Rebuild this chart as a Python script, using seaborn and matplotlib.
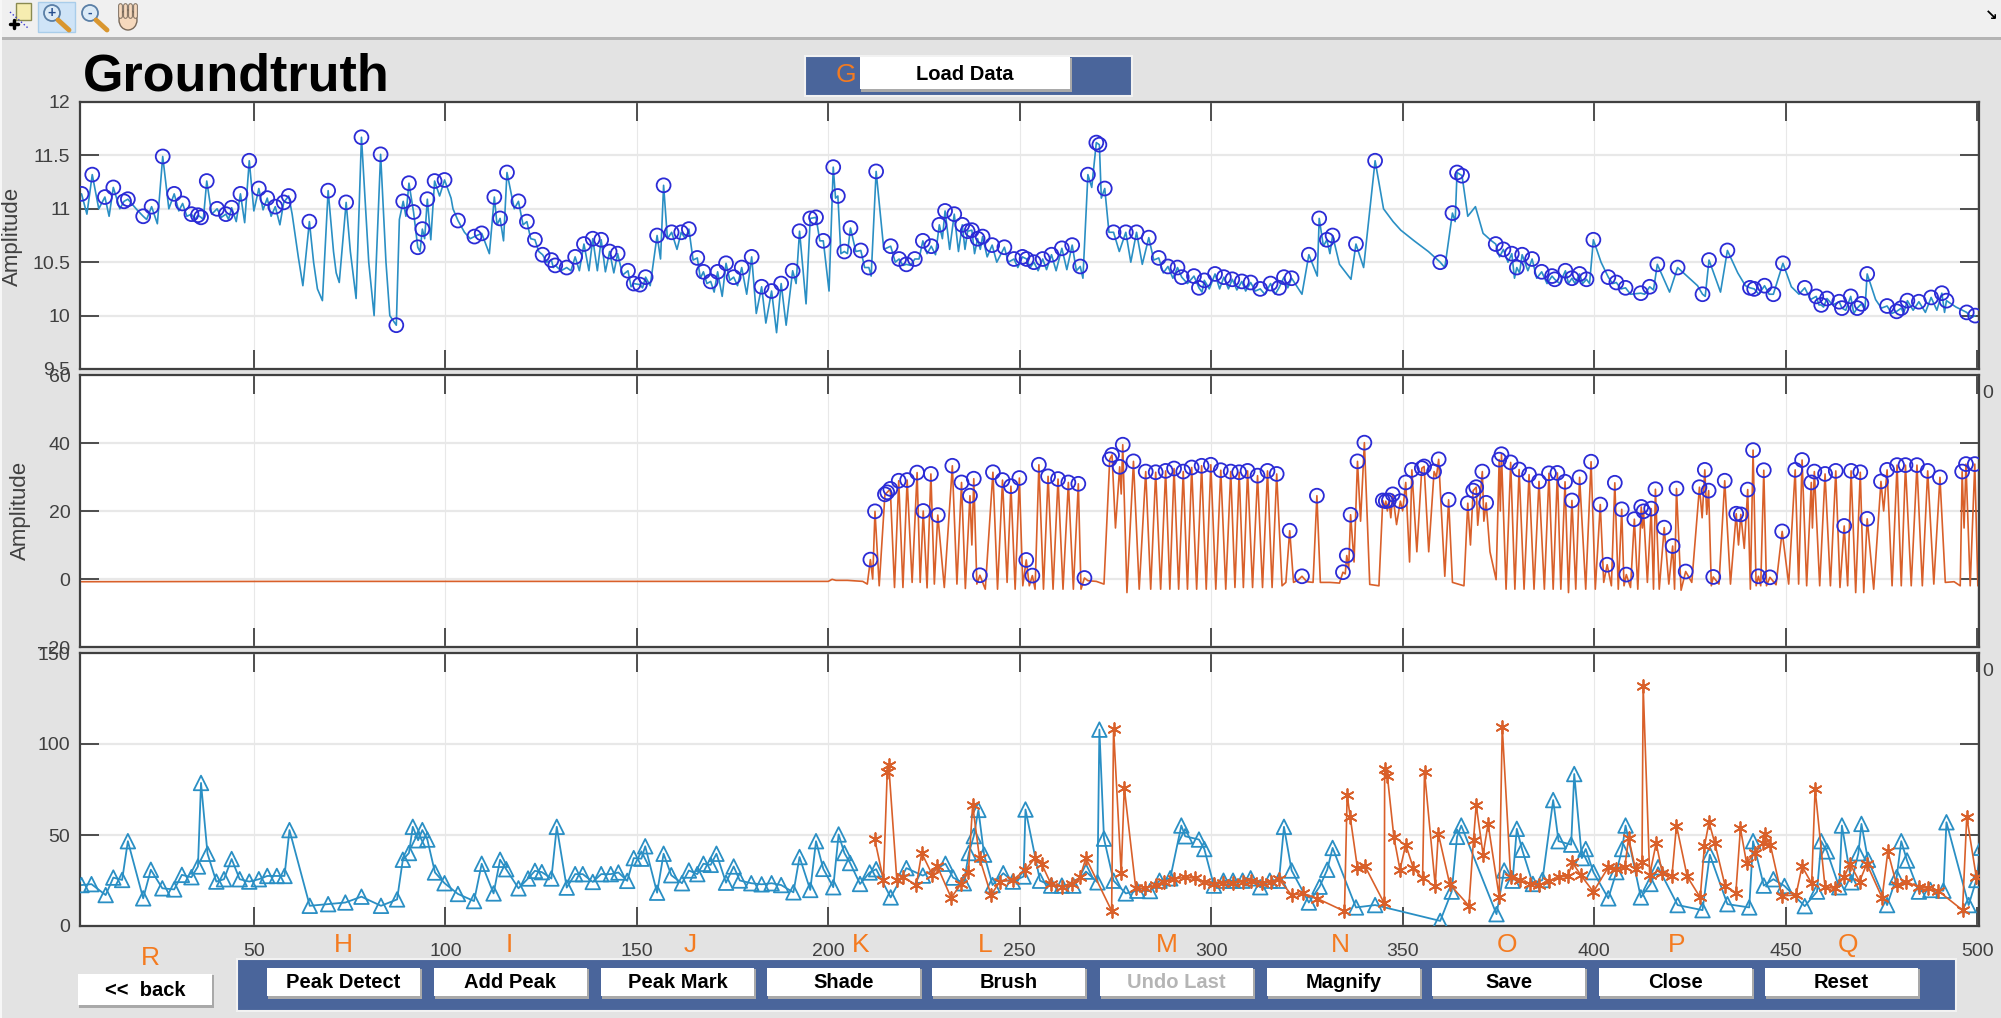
import pandas as pd
import matplotlib
matplotlib.use('Agg')
import matplotlib.pyplot as plt
from matplotlib.patches import Rectangle, Circle, Ellipse
import seaborn as sns

W, H = 2001, 1018

# ---- values, (sample, value) ----
top_peaks = [(5,11.14),(7.8,11.32),(11.1,11.11),(13.3,11.2),(16.1,11.07),(17.1,11.09),(21.1,10.93),(23.3,11.02),
    (26.2,11.49),(29.2,11.14),(31.4,11.05),(33.7,10.95),(35.4,10.94),(36.2,10.92),(37.7,11.26),(40.4,11.0),
    (42.7,10.95),(44.2,11.01),(46.5,11.14),(48.8,11.45),(51.3,11.19),(53.5,11.1),(55.6,11.02),(57.8,11.06),
    (59.1,11.12),(64.5,10.88),(69.4,11.17),(74.1,11.06),(78.1,11.67),(83.1,11.51),(87.2,9.91),(89,11.07),
    (90.5,11.24),(91.7,10.97),(92.8,10.64),(94,10.81),(95.3,11.09),(97.2,11.26),(99.8,11.27),(103.3,10.89),
    (107.6,10.74),(109.5,10.77),(112.8,11.11),(114.3,10.91),(116.1,11.34),(119.1,11.07),(121.3,10.88),
    (123.4,10.71),(125.4,10.57),(127.7,10.52),(128.7,10.47),(131.7,10.45),(133.9,10.55),(136.2,10.67),
    (138.5,10.72),(140.7,10.71),(142.9,10.6),(145,10.58),(147.7,10.42),(149.2,10.3),(150.8,10.29),(152.3,10.36),
    (155.3,10.75),(157,11.22),(159.1,10.78),(161.6,10.78),(163.6,10.81),(165.8,10.54),(167.4,10.41),(169.3,10.32),
    (171.1,10.41),(173.3,10.49),(175.3,10.36),(177.4,10.45),(180,10.55),(182.6,10.27),(185.2,10.23),(187.7,10.3),
    (190.7,10.42),(192.5,10.79),(195.3,10.91),(196.8,10.92),(198.7,10.7),(201.3,11.39),(202.5,11.12),(204.2,10.6),
    (205.8,10.82),(208.5,10.61),(210.6,10.45),(212.5,11.35),(216.3,10.65),(218.5,10.53),(220.4,10.48),(222.6,10.53),
    (224.7,10.7),(226.9,10.65),(229,10.85),(230.5,10.98),(232.9,10.95),(235,10.85),(236.4,10.79),(237.5,10.8),
    (239,10.72),(240.3,10.74),(242.8,10.66),(246,10.64),(248.5,10.53),(250.7,10.55),(251.8,10.53),(253.7,10.5),
    (256,10.53),(258.3,10.57),(261,10.63),(263.7,10.66),(265.8,10.46),(267.8,11.32),(270,11.62),(270.8,11.6),
    (272.2,11.19),(274.5,10.78),(277.7,10.78),(280.5,10.78),(283.7,10.73),(286.3,10.54),(288.7,10.46),(291.2,10.45),
    (292.3,10.36),(295.5,10.37),(296.8,10.26),(298.2,10.33),(301,10.39),(303.3,10.36),(305.5,10.34),(308,10.32),
    (310.3,10.31),(312.8,10.25),(315.5,10.3),(317.7,10.26),(319,10.36),(321,10.35),(325.5,10.57),(328.2,10.91),
    (330.2,10.71),(331.7,10.75),(337.8,10.67),(342.8,11.45),(359.8,10.5),(363,10.96),(364.2,11.34),(365.5,11.31),
    (374.3,10.67),(376.3,10.62),(378.5,10.58),(379.8,10.45),(381.2,10.57),(383.8,10.53),(386.3,10.41),(389,10.37),
    (389.7,10.34),(392.5,10.42),(394.2,10.35),(396.2,10.39),(398,10.34),(399.8,10.71),(403.7,10.36),(405.8,10.31),
    (408.2,10.26),(412.2,10.21),(414.5,10.27),(416.5,10.48),(421.8,10.45),(428.3,10.2),(430,10.52),(434.8,10.61),
    (440.7,10.26),(441.8,10.25),(444.5,10.28),(446.8,10.2),(449.3,10.49),(455,10.26),(458,10.18),(459.3,10.1),
    (460.8,10.16),(464,10.13),(464.7,10.07),(467,10.18),(468.7,10.07),(469.8,10.11),(471.3,10.39),(476.5,10.09),
    (479,10.04),(480.2,10.07),(481.8,10.14),(484.8,10.13),(488,10.17),(490.8,10.21),(492,10.14),(497.3,10.03),(499.5,10.0)]

top_dips = [(6.4,10.95),(9.5,11.0),(12.2,10.93),(15,11.0),(19.5,10.99),(22,10.9),(24.8,10.86),(27.8,11.0),(30.4,10.98),
    (32.5,10.93),(34.6,10.9),(36.8,10.9),(39,10.95),(41.5,10.92),(43.4,10.9),(45.4,10.88),(47.6,10.87),(50,10.98),
    (52.4,10.99),(54.5,10.93),(56.8,10.85),(60,10.95),(60.8,10.75),(61.6,10.55),(62.8,10.28),(65.6,10.5),(66.6,10.25),
    (67.9,10.14),(70.8,10.6),(71.5,10.4),(72.3,10.31),(75.2,10.6),(76.7,10.16),(80,10.5),(81.4,10.0),(84.5,10.5),
    (85.5,10.0),(88,10.9),(89.7,10.93),(93.4,10.6),(94.6,10.72),(96.2,10.71),(98.5,11.12),(101.5,11.1),(102,11.0),
    (105,10.78),(106.5,10.72),(111.5,10.58),(113.5,10.85),(115.2,10.7),(118,11.0),(120.3,10.85),(122.3,10.72),
    (124.4,10.6),(126.5,10.5),(128.2,10.45),(130.2,10.42),(132.8,10.42),(135,10.42),(137.5,10.42),(139.7,10.42),
    (141.8,10.41),(144,10.4),(146.3,10.38),(148.5,10.27),(151.5,10.26),(153.5,10.28),(156.2,10.53),(158,10.72),
    (160.5,10.62),(162.7,10.72),(164.7,10.52),(166.6,10.35),(168.3,10.3),(170.2,10.22),(172.3,10.18),(174.3,10.33),
    (176.3,10.28),(178.7,10.2),(181.2,10.02),(183.7,9.93),(186.5,9.84),(189,9.91),(191.6,10.3),(194.2,10.11),
    (197.8,10.7),(200.2,10.23),(201.9,11.1),(203.3,10.58),(205,10.58),(207.2,10.6),(209.5,10.45),(211.2,10.37),
    (214.5,10.62),(217.5,10.5),(219.5,10.47),(221.5,10.47),(223.7,10.53),(225.8,10.58),(228,10.57),(229.8,10.72),
    (231.7,10.62),(234,10.6),(235.7,10.62),(238.2,10.58),(239.7,10.62),(241.5,10.55),(244,10.5),(247,10.5),(249.5,10.45),
    (252.7,10.45),(254.8,10.42),(257,10.43),(259.5,10.42),(262.3,10.43),(264.8,10.42),(266.5,10.35),(268.8,11.2),
    (271.3,11.1),(273.3,10.78),(276,10.6),(279,10.5),(282,10.48),(285,10.52),(287.5,10.4),(290,10.35),(293.8,10.3),
    (297.6,10.22),(299.5,10.25),(302.2,10.25),(304.5,10.25),(306.7,10.24),(309,10.23),(311.5,10.23),(314,10.2),
    (316.7,10.2),(320,10.26),(323.7,10.2),(327.7,10.37),(329.3,10.65),(331,10.58),(333.5,10.48),(336.5,10.34),
    (339.8,10.45),(345,11.0),(347.5,10.88),(349.5,10.8),(353,10.7),(356.7,10.6),(361,10.45),(363.7,10.88),(367,10.93),
    (369,11.02),(371,10.77),(373.2,10.7),(375.3,10.55),(377.5,10.5),(379.2,10.35),(380.5,10.4),(382.7,10.42),(385,10.35),
    (387.7,10.3),(391,10.3),(393.3,10.3),(395,10.3),(397,10.3),(398.8,10.3),(401.8,10.5),(404.8,10.3),(407,10.25),
    (409.5,10.2),(413.2,10.2),(415.5,10.24),(419.7,10.22),(427,10.28),(429,10.18),(433,10.22),(437.5,10.4),(439.5,10.28),
    (443,10.2),(445.7,10.2),(451.5,10.27),(453.5,10.2),(456.5,10.15),(458.7,10.1),(459.9,10.08),(462.3,10.1),(465.7,10.05),
    (467.8,10.02),(470.7,10.05),(473.5,10.15),(475,10.07),(477.7,10.02),(480.8,10.02),(483.3,10.05),(486.5,10.03),
    (489.5,10.05),(491.5,10.03),(494.5,10.08),(498.5,9.98)]

mid_peaks = [(211,5.7),(212.2,19.9),(214.8,24.9),(215.4,25.5),(216.2,26.5),(218.4,28.9),(220.6,29.1),(223.2,31.3),(224.8,20),
    (226.8,30.9),(228.6,18.8),(232.4,33.3),(234.8,28.4),(237,24.5),(238,29.5),(239.6,1.1),(243,31.4),(245.5,29.1),(247.7,27.3),
    (249.9,29.7),(251.7,5.6),(253.3,1),(255,33.6),(257.4,30.2),(260,29.4),(262.7,28.4),(265.3,28),(266.9,0.3),(273.5,35.2),
    (274.1,36.5),(276.1,33),(276.9,39.5),(279.7,34.6),(282.9,31.6),(285.5,31.4),(288.1,31.8),(290.3,32.5),(292.7,31.6),
    (294.9,32.8),(297.5,33.3),(299.9,33.6),(302.5,32),(305.1,31.6),(307.3,31.4),(309.5,31.8),(312.1,30.4),(314.7,31.8),
    (317.1,30.9),(320.5,14.2),(323.7,0.8),(327.6,24.5),(334.4,2),(335.4,6.9),(336.4,18.9),(338.2,34.6),(340,40.1),(344.8,23.1),
    (345.6,22.9),(346.4,23.1),(347.4,24.9),(349.4,22.9),(350.8,28.4),(352.4,32.1),(355,32.6),(355.6,33.1),(358.2,31.6),
    (359.4,35.2),(362,23.3),(367,22.3),(368.4,26),(369.2,27),(370.8,31.6),(371.8,22.4),(375.2,35.1),(375.8,36.7),(378.2,34.3),
    (380.4,32.2),(383,30.7),(385.6,28.7),(388.2,31.1),(390.4,31.2),(392.4,28.6),(394.2,23.1),(396.2,29.9),(399.2,34.5),
    (401.6,21.9),(403.4,4.2),(405.4,28.3),(407.2,20.5),(408.4,1.3),(410.5,17.6),(412.3,21.2),(412.9,19.9),(414.9,20.7),
    (416,26.4),(418.3,15.1),(420.5,9.7),(421.5,26.6),(423.9,2.2),(427.5,27),(428.9,32.1),(429.9,26),(431.1,0.6),(434.1,28.9),
    (437.1,19.2),(438.3,19),(440.1,26.3),(441.5,37.9),(442.9,0.8),(444.3,32),(445.9,0.5),(449.1,14),(452.5,32.1),(454.3,35),
    (456.7,28.4),(457.5,31.6),(460.3,30.9),(463.1,31.8),(465.3,15.6),(467.1,31.8),(469.5,31.4),(471.3,17.7),(474.9,28.7),
    (476.5,32.1),(479.1,33.5),(481.3,33.5),(484.3,33.5),(487.1,31.8),(490.3,29.9),(496.1,31.6),(497.1,33.8),(499.4,33.8)]

mid_dips = [(5,-0.8),(60,-0.7),(120,-0.7),(180,-0.7),(200,-0.7),(201,-0.1),(202,-0.4),(205,-0.4),(209,-0.7),(210.2,-1.5),
    (211.6,0),(213.3,-2),(217.3,-2.5),(219.5,-2.5),(221.9,-1),(224,-1),(225.8,-2.6),(227.7,-1.5),(230.3,-2.5),(233.6,-1.5),
    (235.8,-2.8),(237.5,10),(238.8,-1.5),(241,-3),(244.2,-3),(246.7,-1),(248.8,-3),(250.8,-2),(252.5,-2),(254,-3),(256.2,-3),
    (258.7,-3),(261.3,-3),(264,-3),(266,-3),(267.8,-0.5),(270,-0.7),(272,-1.5),(275,15),(276.5,25),(278,-4),(281.2,-3),
    (284.2,-3),(286.8,-3),(289.2,-3),(291.5,-3),(293.8,-3),(296.2,-3),(298.7,-3),(301.2,-3),(303.8,-3),(306.2,-2.5),
    (308.4,-2.5),(310.8,-2.5),(313.4,-2.5),(315.9,-2.5),(318.5,-2),(319.5,-1),(321.5,-1),(322.7,-0.3),(325,-0.8),(326.6,-1),
    (328.5,-1),(331,-1),(333.5,-1.2),(335,1.5),(335.9,3),(337.3,5),(339,17),(341.4,-1.6),(343.8,-2),(345.2,21),(346,20),
    (346.9,18),(348.4,16),(350,20),(351.8,5),(353.7,8),(356.8,8),(358.8,30),(361,0.8),(363,-1),(366,-2),(367.7,10),(369.6,15.8),
    (371.2,17),(372.8,8),(374.4,-0.2),(375.5,20),(377,-3),(379.3,-3),(381.7,-3),(384.3,-3),(387,-3),(389.3,-3),(391.3,-3),
    (393.3,-4),(395.2,-3),(397.8,-3),(400.3,-3),(402.5,-1),(404.5,-2),(406.3,-3),(407.8,-2),(409.5,-2.5),(411.4,-3),(412.6,15),
    (413.9,-1),(415.5,-3),(417,-3),(419.5,-1.5),(421,-3),(422.7,-3.3),(425.5,-1),(428.2,18),(429.4,19),(430.6,-2),(432.6,-1.5),
    (435.6,-1.5),(437.7,10),(439.2,9),(440.8,-3),(442.3,-2),(443.5,-2),(445,-2),(447.5,-1.7),(450.8,-1.5),(453.4,-1.5),(455.5,-2),
    (457,15),(458.9,-2),(461.7,-2),(464.2,-2.5),(466.2,-2),(468.3,-4),(470.4,-4),(473,-3),(475.6,20),(477.8,-2),(480.2,-2),
    (482.8,-2),(485.7,-2),(488.7,-1.5),(491.7,-1),(494,-0.8),(495.6,-2),(496.6,15),(498.2,-2),(500.2,-2)]

low_blue = [(5,22.5),(7.6,23),(11.3,17),(13.3,26.6),(15.6,25.3),(17.1,46.6),(21.1,15.2),(23.1,30.9),(26.1,20.7),(29.2,20.1),
    (31.2,28.1),(33.7,26.8),(35.4,32.7),(36.2,78.6),(37.9,39.7),(40.2,24.4),(42.2,25.7),(44.2,36.8),(46.3,25.7),(48.8,24.4),
    (51.3,25.7),(53.5,27.5),(56,27.5),(58,27.5),(59.3,52.7),(64.6,11.1),(69.4,12),(73.9,12.9),(78.1,16.1),(83.2,11.1),(87.4,14.6),
    (88.9,36.4),(90.5,40.1),(91.5,54.5),(92.9,47.1),(94,52.7),(95.3,47.5),(97.3,29.4),(99.8,23.5),(103.3,17.6),(107.5,13.7),
    (109.5,34.2),(112.6,17.9),(114.3,36.4),(115.9,31.2),(119.1,20.7),(121.6,26.1),(123.4,30.3),(125.2,29.6),(127.7,26.1),
    (129.1,54.5),(131.7,21.1),(133.9,28.5),(135.9,28.5),(138.5,24.2),(140.7,28.5),(143.2,28.5),(145.2,29.4),(147.5,24.8),
    (149.2,37.3),(151.2,37),(152.2,43.8),(155.3,18.3),(157,39.7),(159,27.9),(161.8,23.5),(163.6,30.5),(165.8,28.5),(167.4,34.2),
    (169.3,33.6),(170.8,39.7),(173.3,23.8),(175.3,32.7),(176.9,25),(179.9,23.5),(182.6,22.9),(185.2,23.5),(187.7,22.5),(190.9,18.5),
    (192.5,37.9),(195.3,19.8),(196.8,46.6),(198.7,31.4),(201.3,21.3),(202.7,50.3),(204.2,40.1),(205.7,34.6),(208.3,23.1),(210.8,29.4),
    (212.5,31.2),(216.3,15.7),(220.4,31.8),(224.7,27.7),(230.6,34.2),(232.6,26.6),(235.4,23.5),(236.7,40.1),(238,49.4),(239.2,63.8),
    (240.7,39.2),(242.9,22.5),(245.7,29),(248.2,24.4),(251,27.2),(251.5,64),(255.3,24.9),(258.2,22.2),(261,22.2),(264,22.2),(267.3,29.9),
    (270.3,24),(270.8,107.9),(272,48),(274.5,24.9),(277.7,17.9),(280.7,19.4),(284,19.2),(286.5,24.9),(289.3,26.2),(292.2,55.2),
    (293.2,49.3),(296.8,47.5),(298.2,42.3),(300.7,22.2),(303.2,24.9),(305.7,24.9),(308.2,24.9),(310.3,26.2),(312.8,21.3),(315.3,24.9),
    (317.7,24.9),(319,54.5),(321,30.5),(325.5,12.9),(328.3,21.6),(330.3,30.9),(331.7,42.9),(337.8,10.2),(342.8,11.5),(359.8,2.8),
    (362.8,18.9),(364.2,49),(365.3,55.2),(374.5,6.5),(376.5,30.5),(378.7,24.9),(379.8,53.4),(381.2,41.9),(384,23.1),(386.5,25.3),
    (389.3,69.2),(390.7,46.6),(394,44.7),(394.8,83.5),(396.8,37.3),(397.8,42.3),(399.8,29.6),(403.7,15.2),(405.8,29.6),(407.3,42.3),
    (408.2,55.2),(412.2,15.7),(414.7,23.1),(416.7,32.3),(421.8,11.5),(428.3,8.7),(430.2,39.2),(434.8,12),(440.5,10.2),(441.5,46.6),
    (444.3,22.2),(446.8,25.7),(449.7,22),(455,10.9),(458.2,18.9),(459.3,46.6),(460.8,41),(464,21.3),(464.7,55.2),(467.2,24),(469,40),
    (469.8,56.1),(471.5,36.4),(476.5,11.5),(479,26.8),(480.2,46.6),(481.7,36),(484.8,18.9),(487.8,19.8),(491.2,19.4),(492,57),
    (497.8,11.5),(499.8,25.3),(501,43)]

low_orange = [(212.1,48),(214.4,25.3),(215.4,84.5),(215.8,88.2),(217.9,25.3),(219.6,26.8),(223,22.5),(224.4,40.1),(227.2,28),
    (228.5,32.7),(232.1,15.5),(234.6,22.9),(236.6,29.6),(237.7,66.5),(239.5,37.3),(242.5,17),(244.8,24.4),(248.2,25.3),(251.5,30.9),
    (254,37.3),(255.7,34.2),(258.2,22.9),(261,21.6),(263.7,22.9),(265.7,26.8),(267.3,37.3),(274,8.3),(274.5,108.3),(276.5,29),(277.3,76),
    (280.3,20.7),(282.8,20.7),(285.7,22.5),(287.8,24),(290.2,25.7),(293.2,26.8),(295.8,26.2),(298.2,24.4),(300.7,22.9),(303.2,23.8),
    (305.7,23.4),(308.2,24.4),(310.3,24.9),(313.2,23.4),(315.7,24.4),(317.7,25.7),(321,17),(324,17.9),(327.7,15.1),(334.8,8.1),
    (335.5,71.8),(336.3,60),(338.2,31.7),(340.2,32.7),(345.2,12.4),(345.3,86.2),(346,82.5),(347.7,48.9),(349.3,30.9),(350.8,44.7),
    (352.8,31.7),(355.2,26.2),(355.7,84.7),(358.5,22.2),(359.3,50.8),(362.3,22.9),(367.3,11.1),(368.5,47.5),(369.2,66.5),(371,39.2),
    (372.3,56.1),(375.2,16.1),(376,109.4),(378.2,26.8),(380.7,25.3),(383.2,23.1),(385.7,22.5),(388.2,24.9),(390.7,26.8),(393.2,27.5),
    (394.3,34.9),(396.5,28),(399.8,18.8),(403.7,32.3),(405.7,31.2),(408,32.3),(409,48.4),(410.8,31.2),(412.5,35.4),(412.8,131.8),
    (414.5,28),(416.2,45.6),(417.8,29),(420.3,27.2),(421.5,55.2),(424.3,27.2),(427.7,15.7),(428.8,43.8),(430,57),(431.5,45.6),(434.2,22),
    (437,18.3),(438.2,53.6),(439.8,34.6),(442,40),(444,45.6),(444.5,50.3),(446,44.7),(449,16.6),(452.7,17),(454.3,32.7),(456.8,23.4),
    (457.7,75.2),(460.3,21.3),(462.8,20.7),(465.3,26.8),(466.8,34.2),(469.3,24.4),(471.2,34.2),(475.2,15.5),(476.7,41),(479,22.5),
    (481.5,24.4),(484.8,21.3),(487.3,20.7),(489.8,19.4),(496.2,8.7),(497.3,59.9),(499.8,26.8)]

x_ticks = [50, 100, 150, 200, 250, 300, 350, 400, 450, 500]
top_yticks = [9.5, 10, 10.5, 11, 11.5, 12]
top_ylabels = ['9.5', '10', '10.5', '11', '11.5', '12']
mid_yticks = [-20, 0, 20, 40, 60]
low_yticks = [0, 50, 100, 150]

button_names = ['Peak Detect', 'Add Peak', 'Peak Mark', 'Shade', 'Brush', 'Undo Last', 'Magnify', 'Save', 'Close', 'Reset']
button_lefts = [267, 434, 601, 767, 932, 1100, 1267, 1432, 1599, 1765]
letters = ['H', 'I', 'J', 'K', 'L', 'M', 'N', 'O', 'P', 'Q']
letter_x = [343, 509, 690, 861, 985, 1167, 1340, 1507, 1677, 1848]

BLUE_LINE = '#2a8fc4'
ORANGE = '#d9602a'
CIRCLE = '#2b2bd6'
LETTER = '#f47b20'
NAVY = '#4a659b'
GRID = '#e8e8e8'
DARK = '#404040'

sns.set_theme(style='white')
plt.rcParams['font.family'] = ['Liberation Sans', 'DejaVu Sans']

fig = plt.figure(figsize=(W / 100, H / 100), dpi=100, facecolor='#e3e3e3')

# window furniture lives on a full size axes in pixel coordinates
ui = fig.add_axes([0, 0, 1, 1], zorder=0)
ui.set_xlim(0, W)
ui.set_ylim(H, 0)
ui.axis('off')


def box(x0, y0, x1, y1, color, **kw):
    ui.add_patch(Rectangle((x0, y0), x1 - x0, y1 - y0, facecolor=color, edgecolor=kw.pop('edge', 'none'), **kw))


def button(x0, y0, x1, y1, name, color='black', size=14.5):
    box(x0 + 1, y0 + 1, x1 + 2, y1 + 3, '#a9a9a9')
    box(x0, y0, x1, y1, 'white')
    ui.text((x0 + x1) / 2, (y0 + y1) / 2 + 1, name, color=color, fontsize=size, fontweight='bold', ha='center', va='center')


box(0, 0, W, 37, '#f0f0f0')
box(0, 37, W, 40, '#b4b4b4')
box(0, 0, 2, H, '#f7f7f7')

# toolbar icons
box(38, 2, 75, 32, '#cfe4f7', edge='#a9cdea')
ui.plot([10, 28], [12, 28], color='#3a3ad0', lw=1, ls=':')
ui.plot([10, 18], [24, 24], color='black', lw=2.5)
ui.plot([14, 14], [20, 28], color='black', lw=2.5)
box(16, 3, 31, 20, '#f6edb0', edge='#8a8a50')
for cx, sign in [(52, '+'), (90, '-')]:
    ui.plot([cx + 6, cx + 17], [20, 30], color='#d9962f', lw=3.5)
    ui.add_patch(Circle((cx, 13), 8, facecolor='#dcebf7', edgecolor='#5a7fa6', lw=1.3))
    ui.text(cx, 13, sign, fontsize=10, fontweight='bold', color='#274f8f', ha='center', va='center')
ui.add_patch(Ellipse((128, 20), 18, 20, facecolor='#f6d9bd', edgecolor='#7a6a5a', lw=1))
for fx in [120, 125, 130, 135]:
    ui.plot([fx, fx], [5, 16], color='#7a6a5a', lw=3.4, solid_capstyle='round')
    ui.plot([fx, fx], [5, 16], color='#f6d9bd', lw=2, solid_capstyle='round')
ui.text(1991, 16, '↘', fontsize=11, fontweight='bold', color='black', ha='center', va='center')

ui.text(83, 77, 'Groundtruth', fontsize=37.5, fontweight='bold', color='black', ha='left', va='center')

# load data strip
box(805, 56, 1132, 96, NAVY, edge='#f2f2f2', lw=1.5)
button(860, 57, 1070, 89, 'Load Data')

# button strip along the bottom
box(237, 959, 1956, 1011, NAVY, edge='#f2f2f2', lw=1.5)
for name, left in zip(button_names, button_lefts):
    button(left, 968, left + 153, 996, name, color='#b5b5b5' if name == 'Undo Last' else 'black')
button(78, 974, 212, 1005, '<<  back')

ui.text(846, 75, 'G', fontsize=19, color=LETTER, ha='center', va='center')
ui.text(150, 958, 'R', fontsize=19, color=LETTER, ha='center', va='center')
for let, lx in zip(letters, letter_x):
    ui.text(lx, 945, let, fontsize=19, color=LETTER, ha='center', va='center')

ui.text(1988, 393, '0', fontsize=14, color=DARK, ha='center', va='center', zorder=5)
ui.text(1988, 672, '0', fontsize=14, color=DARK, ha='center', va='center', zorder=5)


def panel(y0, y1, ylim, yticks, ylabels=None):
    ax = fig.add_axes([80 / W, 1 - y1 / H, (1979 - 80) / W, (y1 - y0) / H], zorder=2, facecolor='white')
    ax.set_xlim(4.6, 500.5)
    ax.set_ylim(*ylim)
    ax.set_xticks(x_ticks)
    ax.set_yticks(yticks)
    if ylabels:
        ax.set_yticklabels(ylabels)
    ax.grid(True, axis='y', color=GRID, lw=1.6)
    ax.grid(True, axis='x', color=GRID, lw=0.8)
    ax.set_axisbelow(True)
    ax.tick_params(direction='in', length=13.5, width=1.3, color=DARK, top=True, right=True, left=True, bottom=True,
                   labelsize=14, labelcolor=DARK, pad=7)
    ax.tick_params(axis='x', pad=12)
    for spine in ax.spines.values():
        spine.set_visible(True)
        spine.set_color(DARK)
        spine.set_linewidth(1.6)
    ax.set_xlabel('')
    return ax


def spiky_line(peaks, dips):
    return pd.concat([pd.DataFrame(peaks, columns=['x', 'y']), pd.DataFrame(dips, columns=['x', 'y'])])


# top panel
ax1 = panel(102, 369, (9.5, 12), top_yticks, top_ylabels)
sns.lineplot(data=spiky_line(top_peaks, top_dips), x='x', y='y', estimator=None, sort=True, color=BLUE_LINE, lw=1.2, ax=ax1)
sns.scatterplot(data=pd.DataFrame(top_peaks, columns=['x', 'y']), x='x', y='y', marker='o', s=100, facecolor='none',
                edgecolor=CIRCLE, linewidth=1.3, ax=ax1, zorder=3)
ax1.set_xlabel('')
ax1.set_ylabel('')
ax1.tick_params(labelbottom=False)

# middle panel
ax2 = panel(375, 647, (-20, 60), mid_yticks)
sns.lineplot(data=spiky_line(mid_peaks, mid_dips), x='x', y='y', estimator=None, sort=True, color=ORANGE, lw=1.2, ax=ax2)
sns.scatterplot(data=pd.DataFrame(mid_peaks, columns=['x', 'y']), x='x', y='y', marker='o', s=100, facecolor='none',
                edgecolor=CIRCLE, linewidth=1.3, ax=ax2, zorder=3)
ax2.set_xlabel('')
ax2.set_ylabel('')
ax2.tick_params(labelbottom=False)

# bottom panel
ax3 = panel(653, 926, (0, 150), low_yticks)
blue_df = pd.DataFrame(low_blue, columns=['x', 'y'])
orange_df = pd.DataFrame(low_orange, columns=['x', 'y'])
sns.lineplot(data=blue_df, x='x', y='y', estimator=None, sort=True, color=BLUE_LINE, lw=1.3, ax=ax3)
sns.scatterplot(data=blue_df, x='x', y='y', marker='^', s=110, facecolor='none', edgecolor=BLUE_LINE, linewidth=1.3, ax=ax3, zorder=3)
sns.lineplot(data=orange_df, x='x', y='y', estimator=None, sort=True, color=ORANGE, lw=1.2, ax=ax3, zorder=4)
sns.scatterplot(data=orange_df, x='x', y='y', marker=(6, 2, 0), s=85, color=ORANGE, linewidth=1.3, ax=ax3, zorder=5)
ax3.set_xlabel('')
ax3.set_ylabel('')

ui.text(12, 236, 'Amplitude', fontsize=16, color=DARK, rotation=90, ha='center', va='center')
ui.text(20, 510, 'Amplitude', fontsize=16, color=DARK, rotation=90, ha='center', va='center')

fig.savefig('out.png', dpi=100, facecolor=fig.get_facecolor())
